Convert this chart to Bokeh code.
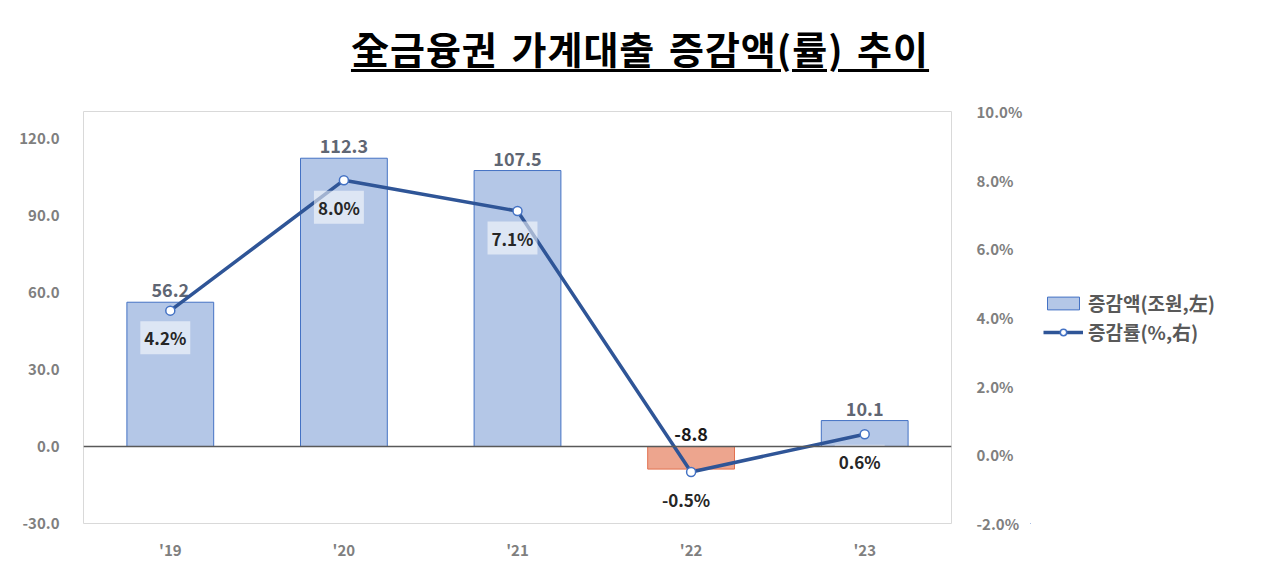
from bokeh.plotting import figure
from bokeh.models import (ColumnDataSource, Range1d, LinearAxis, FixedTicker,
                          PrintfTickFormatter, Span, Legend, LegendItem, FactorRange, Div)
from bokeh.layouts import column, row
from bokeh.core.properties import value
from bokeh.embed import file_html
from bokeh.resources import INLINE

title_text = "全금융권 가계대출 증감액(률) 추이"
years = ["'19", "'20", "'21", "'22", "'23"]
amount = [56.2, 112.3, 107.5, -8.8, 10.1]
rate = [4.2, 8.0, 7.1, -0.5, 0.6]
left_ticks = [-30, 0, 30, 60, 90, 120]
right_ticks = [-2, 0, 2, 4, 6, 8, 10]
bar_name = "증감액(조원,左)"
line_name = "증감률(%,右)"

NUM = "Noto Sans CJK KR"
BAR_FILL, BAR_LINE = "#b4c7e7", "#4472c4"
NEG_FILL, NEG_LINE = "#eda58e", "#e2704f"
LINE_COL = "#2f5597"

title = Div(text=('<div style="width:1280px;text-align:center;padding-top:25px;'
                  "font-family:'Noto Sans CJK KR';font-weight:bold;font-size:38px;"
                  'line-height:46px;color:black;letter-spacing:1px;word-spacing:4px">'
                  '<span style="text-decoration:underline;text-decoration-thickness:3px;'
                  'text-underline-offset:5px">' + title_text + '</span></div>'),
            width=1280, height=90, margin=(0, 0, 0, 0))

p = figure(width=1030, height=485, x_range=FactorRange(*years, range_padding=0),
           y_range=Range1d(-30, 130.5), output_backend="svg", toolbar_location=None,
           min_border_left=83, min_border_right=79, min_border_top=21, min_border_bottom=52,
           margin=(0, 0, 0, 0))
p.extra_y_ranges = {"pct": Range1d(-2, 10)}
p.xgrid.grid_line_color = None
p.ygrid.grid_line_color = None
p.outline_line_color = "#d9d9d9"
p.outline_line_width = 1

p.yaxis.ticker = FixedTicker(ticks=left_ticks)
p.yaxis.formatter = PrintfTickFormatter(format="%.1f")
lax = p.yaxis[0]
lax.axis_line_color = None
lax.major_tick_line_color = None
lax.minor_tick_line_color = None
lax.major_label_standoff = 18
lax.major_label_text_font = NUM
lax.major_label_text_font_style = "bold"
lax.major_label_text_font_size = "15px"
lax.major_label_text_color = "#7f7f7f"

rax = LinearAxis(y_range_name="pct", ticker=FixedTicker(ticks=right_ticks),
                 formatter=PrintfTickFormatter(format="%.1f%%"))
rax.axis_line_color = None
rax.major_tick_line_color = None
rax.minor_tick_line_color = None
rax.major_label_standoff = 19
rax.major_label_text_font = NUM
rax.major_label_text_font_style = "bold"
rax.major_label_text_font_size = "15px"
rax.major_label_text_color = "#7f7f7f"
p.add_layout(rax, "right")

xa = p.xaxis[0]
xa.axis_line_color = None
xa.major_tick_line_color = None
xa.major_label_standoff = 9
xa.major_label_text_font = NUM
xa.major_label_text_font_style = "bold"
xa.major_label_text_font_size = "15px"
xa.major_label_text_color = "#7f7f7f"

p.add_layout(Span(location=0, dimension="width", line_color="#595959", line_width=1.5))

fills = [BAR_FILL if v >= 0 else NEG_FILL for v in amount]
lines = [BAR_LINE if v >= 0 else NEG_LINE for v in amount]
lab_col = ["#5f6673" if v >= 0 else "#1a1a1a" for v in amount]
src = ColumnDataSource(dict(x=years, top=amount, fill=fills, line=lines,
                            ly=[max(v, 0) for v in amount],
                            lt=["%.1f" % v for v in amount], lc=lab_col))
p.vbar(x="x", top="top", bottom=0, width=0.5, fill_color="fill", line_color="line",
       line_width=1, source=src)
p.text(x="x", y="ly", text="lt", text_color="lc", source=src, text_align="center",
       text_baseline="bottom", y_offset=-5, text_font=value(NUM), text_font_style="bold",
       text_font_size="18px")

lsrc = ColumnDataSource(dict(x=years, y=rate, t=["%.1f%%" % v for v in rate]))
p.line(x="x", y="y", source=lsrc, y_range_name="pct", line_color=LINE_COL, line_width=3.5)
p.scatter(x="x", y="y", source=lsrc, y_range_name="pct", marker="circle", size=9,
          fill_color="white", line_color=BAR_LINE, line_width=1.5)
p.text(x="x", y="y", text="t", source=lsrc, y_range_name="pct", text_align="center",
       text_baseline="middle", x_offset=-5, y_offset=27, text_font=value(NUM),
       text_font_style="bold", text_font_size="17px", text_color="#262626",
       background_fill_color="white", background_fill_alpha=0.55, padding=4)

# ---- legend panel (separate figure to the right) ----
lg = figure(width=250, height=485, x_range=Range1d(0, 1), y_range=Range1d(0, 1),
            output_backend="svg", toolbar_location=None,
            min_border_left=0, min_border_right=0, min_border_top=21, min_border_bottom=52,
            margin=(0, 0, 0, 0))
lg.axis.visible = False
lg.xgrid.grid_line_color = None
lg.ygrid.grid_line_color = None
lg.outline_line_color = None
# far off-screen proxy glyphs, used only to draw the legend keys
proxy = ColumnDataSource(dict(x=[-1000, -1001], y=[-1000, -1001]))
d_bar = lg.vbar(x="x", top="y", bottom=-1002, width=0.5, fill_color=BAR_FILL,
                line_color=BAR_LINE, source=proxy)
d_line = lg.line(x="x", y="y", line_color=LINE_COL, line_width=3.5, source=proxy)
d_sc = lg.scatter(x="x", y="y", marker="circle", size=9, fill_color="white",
                  line_color=BAR_LINE, line_width=1.5, source=proxy)
legend = Legend(items=[LegendItem(label=bar_name, renderers=[d_bar], index=0),
                       LegendItem(label=line_name, renderers=[d_line, d_sc], index=0)],
                location="left")
legend.border_line_color = None
legend.background_fill_alpha = 0
legend.glyph_width = 40
legend.glyph_height = 16
legend.label_text_font = NUM
legend.label_text_font_style = "bold"
legend.label_text_font_size = "19px"
legend.label_text_color = "#595959"
legend.spacing = 2
legend.padding = 0
legend.margin = 13
legend.label_standoff = 5
lg.add_layout(legend)

layout = column(title, row(p, lg, spacing=0), spacing=0)
open("out.html", "w").write(file_html(layout, INLINE))
